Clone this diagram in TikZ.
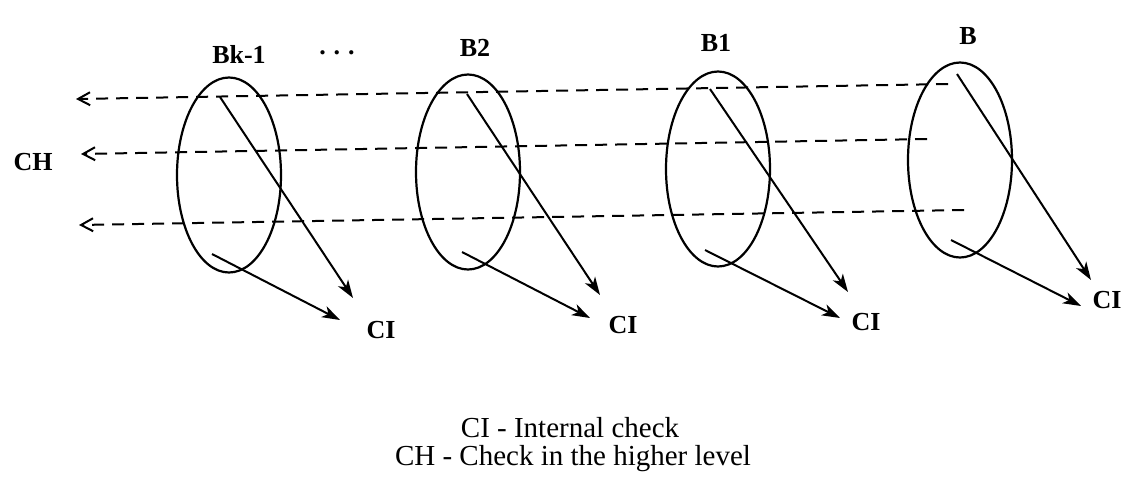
\documentclass[tikz,border=0pt]{standalone}
\usepackage{fontspec}
\setmainfont{Liberation Serif}
\usetikzlibrary{shapes.geometric,arrows.meta}
\begin{document}
\begin{tikzpicture}[x=1pt,y=-1pt,
  blk/.style={draw,ellipse,line width=2.2pt,minimum width=104pt,minimum height=195pt,inner sep=0pt},
  lbl/.style={font=\fontsize{26}{30}\bfseries\selectfont,inner sep=0pt},
  leg/.style={font=\fontsize{29}{30}\selectfont,inner sep=0pt,anchor=base},
  chk/.style={line width=2pt,-{Stealth[length=18pt,width=12pt,inset=5pt]}},
  hi/.style={line width=2pt,dash pattern=on 12pt off 8pt,-{Straight Barb[length=12pt,width=13pt,line width=2pt]}}]
\useasboundingbox (0,0) rectangle (1129,477);
% ellipses
\node[blk] (e1) at (229,175) {};
\node[blk] (e2) at (468,172) {};
\node[blk] (e3) at (718,169) {};
\node[blk] (e4) at (960,160) {};
% titles
\node[lbl] (t1) at (239,55) {Bk-1};
\node[lbl,anchor=base] (td) at (337,54) {.\hspace{8pt}.\hspace{8pt}.};
\node[lbl] (t2) at (475,48) {B2};
\node[lbl] (t3) at (716,43) {B1};
\node[lbl] (t4) at (968,36) {B};
\node[lbl] (ch) at (33,162) {CH};
% CI labels
\node[lbl] (c1) at (381,330) {CI};
\node[lbl] (c2) at (623,325) {CI};
\node[lbl] (c3) at (866,322) {CI};
\node[lbl] (c4) at (1107,300) {CI};
% dashed lines
\coordinate (ha1) at (948,84);  \coordinate (hb1) at (76,99);
\coordinate (ha2) at (927,139); \coordinate (hb2) at (81,154);
\coordinate (ha3) at (964,210); \coordinate (hb3) at (79,225);
\draw[hi] (ha1) -- (hb1);
\draw[hi] (ha2) -- (hb2);
\draw[hi] (ha3) -- (hb3);
% check arrows
\coordinate (l1s) at (220,97);  \coordinate (l1e) at (353,298);
\coordinate (s1s) at (212,254); \coordinate (s1e) at (340,320);
\coordinate (l2s) at (467,94);  \coordinate (l2e) at (600,295);
\coordinate (s2s) at (462,252); \coordinate (s2e) at (590,318);
\coordinate (l3s) at (710,89);  \coordinate (l3e) at (848,292);
\coordinate (s3s) at (705,250); \coordinate (s3e) at (840,318);
\coordinate (l4s) at (957,74);  \coordinate (l4e) at (1091,280);
\coordinate (s4s) at (951,240); \coordinate (s4e) at (1081,306);
\foreach \i in {1,2,3,4}{
  \draw[chk] (l\i s) -- (l\i e);
  \draw[chk] (s\i s) -- (s\i e);
}
% legend
\node[leg] (lg1) at (570,437) {CI - Internal check};
\node[leg] (lg2) at (573,465) {CH - Check in the higher level};
\end{tikzpicture}
\end{document}
